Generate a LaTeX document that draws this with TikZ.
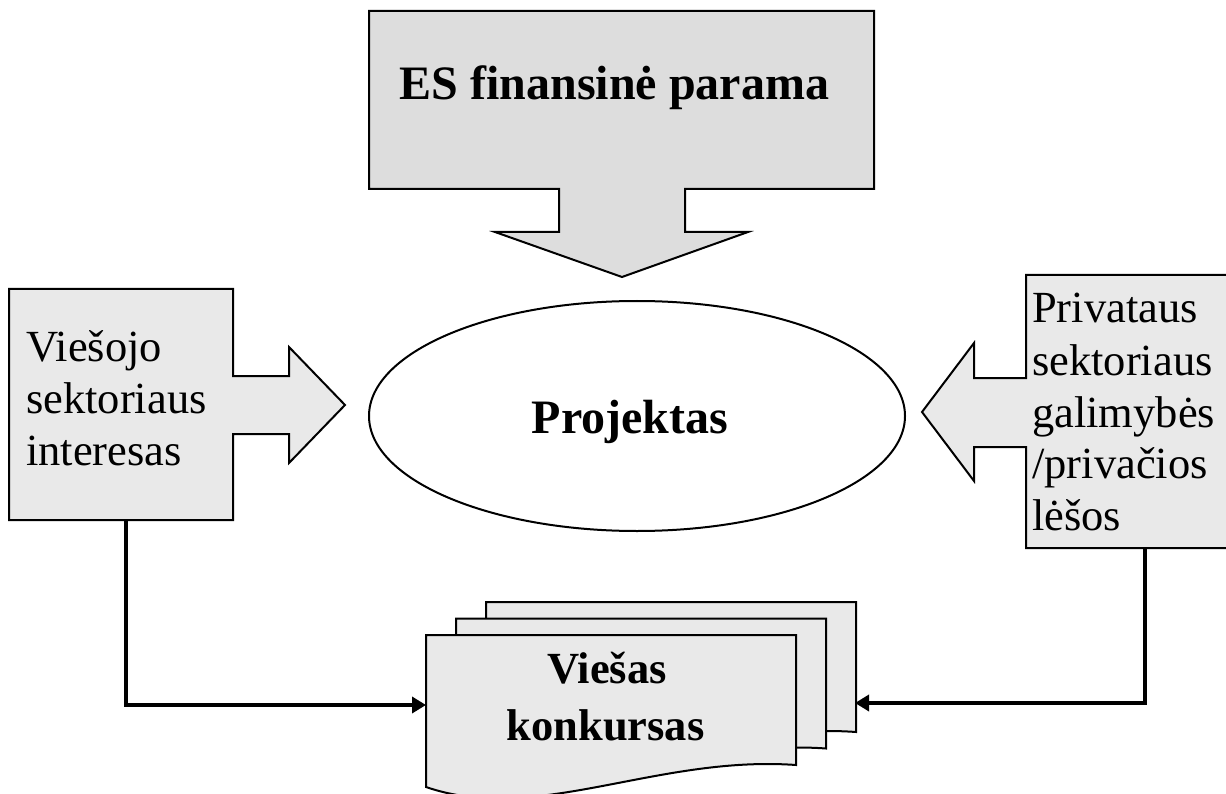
\documentclass[tikz,border=0pt]{standalone}
\usepackage{fontspec}
\setmainfont{Liberation Serif}
\usetikzlibrary{arrows.meta}
\definecolor{darkfill}{HTML}{DDDDDD}
\definecolor{lightfill}{HTML}{E9E9E9}
\tikzset{
  shapeline/.style={draw=black, line width=2pt, line join=miter},
  bodytext/.style={inner sep=0pt, anchor=base west, font=\fontsize{44.5}{52}\selectfont},
  boldtext/.style={inner sep=0pt, anchor=base, font=\fontsize{48}{56}\selectfont\bfseries},
  doctext/.style={inner sep=0pt, anchor=base, font=\fontsize{44.5}{57}\selectfont\bfseries},
  link/.style={line width=4.5pt, -{Triangle[length=14pt,width=16pt]}},
  pics/docsheet/.style={code={
    \path[shapeline, fill=lightfill] (0,0) -- (370,0) -- (370,130)
      .. controls (230,120) and (110,190) .. (0,152) -- cycle;
  }}
}
\begin{document}
\begin{tikzpicture}[x=1pt, y=-1pt]
\useasboundingbox (0,0) rectangle (1226,794);

% top callout
\path[shapeline, fill=darkfill] (369,11) -- (874,11) -- (874,189) -- (685,189) -- (685,232)
  -- (748,232) -- (622,277) -- (495,232) -- (559,232) -- (559,189) -- (369,189) -- cycle;
\node[boldtext] (es) at (614.5,100) {ES finansinė parama};

% left callout
\path[shapeline, fill=lightfill] (9,289) -- (233,289) -- (233,376) -- (289,376) -- (289,347)
  -- (345,405) -- (289,463) -- (289,434) -- (233,434) -- (233,520) -- (9,520) -- cycle;
\node[bodytext] (pub1) at (26,361) {Viešojo};
\node[bodytext] (pub2) at (26,413) {sektoriaus};
\node[bodytext] (pub3) at (26,465) {interesas};

% right callout
\path[shapeline, fill=lightfill] (1230,275) -- (1026,275) -- (1026,378) -- (974,378) -- (974,343)
  -- (922,412) -- (974,481) -- (974,447) -- (1026,447) -- (1026,548) -- (1230,548);
\node[bodytext] (pr1) at (1032,323) {Privataus};
\node[bodytext] (pr2) at (1032,375) {sektoriaus};
\node[bodytext] (pr3) at (1032,427) {galimybės};
\node[bodytext] (pr4) at (1032,478) {/privačios};
\node[bodytext] (pr5) at (1032,530) {lėšos};

% ellipse
\draw[line width=2pt] (637,416) ellipse [x radius=268, y radius=115];
\node[boldtext] (proj) at (630,433) {Projektas};

% document stack
\pic at (486,602) {docsheet};
\pic at (456,618.5) {docsheet};
\pic at (426,635) {docsheet};
\node[doctext] (doc1) at (607,683) {Viešas};
\node[doctext] (doc2) at (605.5,740) {konkursas};

% connectors
\coordinate (pubB) at (126,520);
\coordinate (prB) at (1145,548);
\coordinate (docL) at (426,705);
\coordinate (docR) at (855,703);
\draw[link] (pubB) |- (docL);
\draw[link] (prB) |- (docR);
\end{tikzpicture}
\end{document}
